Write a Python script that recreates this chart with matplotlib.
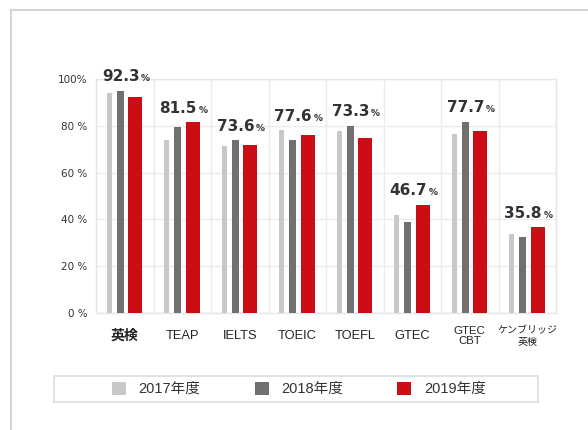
import matplotlib
matplotlib.use("Agg")
import matplotlib.pyplot as plt
from matplotlib.lines import Line2D
from matplotlib.patches import Rectangle
import numpy as np

plt.rcParams['font.family'] = ['Liberation Sans', 'Noto Sans CJK JP', 'DejaVu Sans']

categories = ['英検', 'TEAP', 'IELTS', 'TOEIC', 'TOEFL', 'GTEC', 'GTEC\nCBT', 'ケンブリッジ\n英検']
years = ['2017年度', '2018年度', '2019年度']
v2017 = [94.0, 73.8, 71.5, 78.2, 77.6, 42.0, 76.5, 33.8]
v2018 = [95.0, 79.3, 73.9, 74.1, 80.0, 38.7, 81.8, 32.3]
v2019 = [92.3, 81.5, 71.8, 75.9, 74.6, 46.3, 77.8, 36.6]
value_labels = ['92.3', '81.5', '73.6', '77.6', '73.3', '46.7', '77.7', '35.8']
yticks = [0, 20, 40, 60, 80, 100]
ytick_labels = ['0 %', '20 %', '40 %', '60 %', '80 %', '100%']

colors = ['#c8c8c8', '#707070', '#cc0d16']
offsets = [-0.27, -0.075, 0.18]
widths = [0.09, 0.12, 0.24]

fig = plt.figure(figsize=(5.88, 4.30), dpi=100)
ax = fig.add_axes([96/588, 1-313/430, 460/588, 234/430])

x = np.arange(len(categories))
bars = []
for vals, c, off, w, lab in zip([v2017, v2018, v2019], colors, offsets, widths, years):
    b = ax.bar(x + off, vals, width=w, color=c, label=lab, zorder=3)
    bars.append(b)

ax.set_xlim(-0.5, len(categories) - 0.5)
ax.set_ylim(0, 100)
ax.set_yticks(yticks)
ax.set_yticklabels(ytick_labels, fontsize=7.5, family=['DejaVu Sans'], color='#333333')
ax.set_xticks(x)
ax.set_xticklabels(categories)
ax.set_xticks(np.arange(len(categories) + 1) - 0.5, minor=True)
ax.tick_params(axis='both', which='both', length=0)
ax.tick_params(axis='y', pad=6)
ax.tick_params(axis='x', pad=16.5)
for i, t in enumerate(ax.get_xticklabels()):
    t.set_va('center')
    t.set_color('#222222')
    if i == 0:
        t.set_fontsize(10)
        t.set_fontweight('bold')
    elif i == 6:
        t.set_fontsize(8.2)
        t.set_linespacing(1.1)
    elif i == 7:
        t.set_fontsize(7.2)
        t.set_linespacing(1.15)
    else:
        t.set_fontsize(9.3)

ax.grid(axis='y', which='major', color='#ececec', linewidth=1, zorder=0)
ax.grid(axis='x', which='minor', color='#ececec', linewidth=1, zorder=0)
for s in ax.spines.values():
    s.set_color('#e6e6e6')
    s.set_linewidth(1)

for i, lab in enumerate(value_labels):
    top = max(v2017[i], v2018[i], v2019[i]) + 4
    t = ax.text(i - 0.07, top, lab, ha='center', va='baseline', fontsize=11,
                fontweight='bold', family=['DejaVu Sans'], color='#333333')
    ax.annotate('%', xy=(1, top), xycoords=(t, 'data'), xytext=(1, 0),
                textcoords='offset points', ha='left', va='baseline',
                fontsize=6.5, fontweight='bold', family=['DejaVu Sans'], color='#333333')

# legend box
fig.patches.append(Rectangle((54/588, 1-401.7/430), 484/588, 26/430, transform=fig.transFigure,
                             facecolor='none', edgecolor='#dddddd', linewidth=1.2))
fig.legend(handles=bars, labels=years, loc='center', bbox_to_anchor=(299/588, 1-389/430),
           ncol=3, frameon=False, fontsize=10.5, handlelength=0.96, handleheight=0.96,
           handletextpad=0.9, columnspacing=3.7, labelcolor='#333333')

# outer frame
fig.add_artist(Line2D([11/588, 1.0], [1-10/430, 1-10/430], transform=fig.transFigure,
                      color='#d4d4d4', linewidth=1.5))
fig.add_artist(Line2D([11/588, 11/588], [0, 1-10/430], transform=fig.transFigure,
                      color='#d4d4d4', linewidth=1.5))

fig.savefig('out.png', dpi=100)
